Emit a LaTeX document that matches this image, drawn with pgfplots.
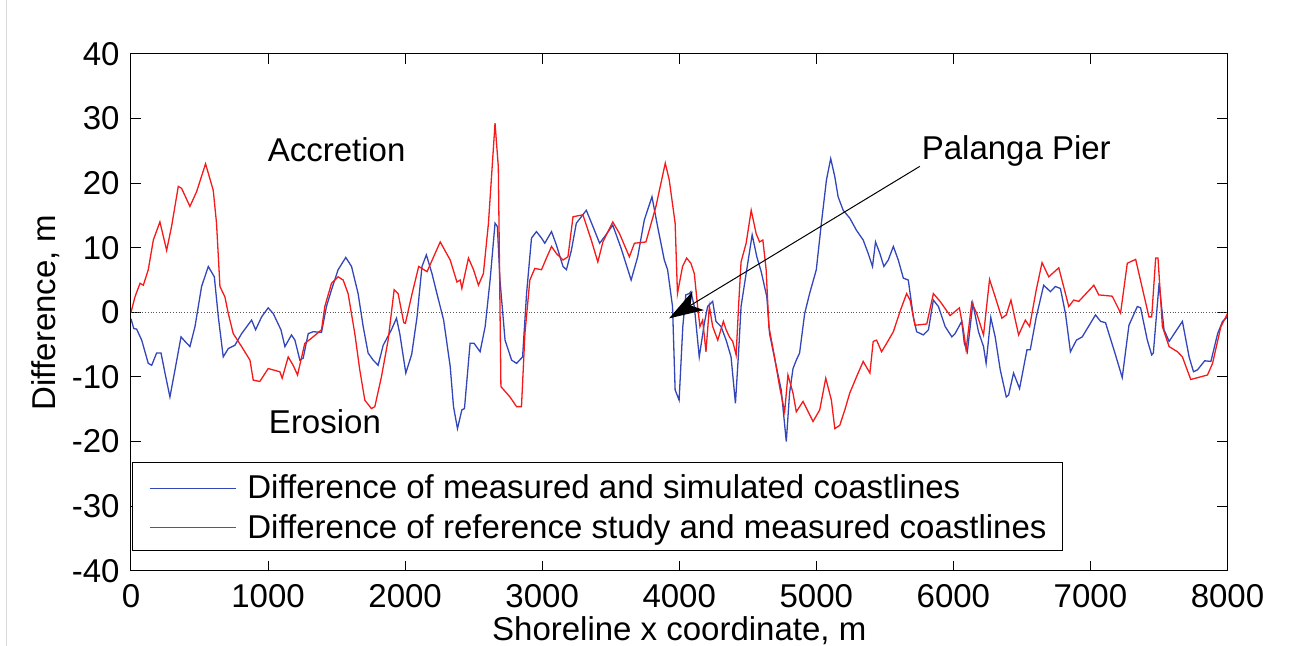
\documentclass[border=0pt]{standalone}
\usepackage{fontspec}
\setmainfont{Liberation Sans}
\usepackage{pgfplots}
\pgfplotsset{compat=1.18}
\usetikzlibrary{arrows.meta}
\definecolor{mblue}{RGB}{50,70,185}
\definecolor{mred}{RGB}{245,25,25}
\begin{document}
\fontsize{16.5}{20}\selectfont
\begin{tikzpicture}
\begin{axis}[
  at={(0,0)}, anchor=south west,
  scale only axis, width=548.25pt, height=258.35pt,
  xmin=0, xmax=8000, ymin=-40, ymax=40,
  xtick={0,1000,...,8000}, ytick={-40,-30,...,40},
  tick align=inside, major tick length=5pt, tick pos=both,
  axis line style={line width=0.5pt, black},
  tick style={line width=0.5pt, black},
  scaled ticks=false,
  /pgf/number format/1000 sep={},
  /pgf/number format/assume math mode=true,
  xticklabel style={inner sep=1pt, yshift=-5.5pt},
  xlabel={Shoreline x coordinate, m},
  ylabel={Difference, m},
  xlabel style={at={(axis description cs:0.5,-0.1355)}, anchor=base, inner sep=0pt},
  ylabel style={at={(axis description cs:-0.0693,0.5)}, anchor=base, inner sep=0pt},
]
\draw[gray!70!black, densely dotted, line width=0.4pt] (axis cs:0,0) -- (axis cs:8000,0);
\addplot[color=mblue, line width=0.65pt] coordinates {
(0,-1) (20,-2.5) (41,-2.6) (78,-4.3) (126,-7.9) (151,-8.2) (187,-6.3) (219,-6.3) (248,-9.4) (284,-13.1)
(321,-8.9) (365,-3.8) (394,-4.5) (430,-5.3) (467,-2.2) (515,4.0) (564,7.1) (608,5.5) (637,-0.7) (673,-6.9)
(710,-5.6) (758,-5.1) (807,-3.3) (880,-1.2) (909,-2.7) (953,-0.7) (1001,0.7) (1038,-0.2) (1094,-2.7) (1123,-5.3)
(1171,-3.5) (1196,-4.3) (1232,-7.4) (1256,-7.1) (1293,-3.3) (1329,-3.0) (1390,-3.1) (1426,0.9) (1463,3.5) (1511,6.6)
(1567,8.5) (1609,7.1) (1657,2.9) (1694,-2.2) (1730,-6.3) (1767,-7.4) (1803,-8.2) (1840,-5.1) (1900,-2.7) (1937,-0.9)
(1961,-3.3) (2005,-9.4) (2048,-6.5) (2087,-0.7) (2123,7.1) (2155,8.9) (2196,6.0) (2232,2.9) (2281,-1.2) (2329,-8.4)
(2353,-14.6) (2382,-18.0) (2414,-15.1) (2433,-14.9) (2474,-4.8) (2503,-4.8) (2547,-6.1) (2584,-2.2) (2620,5.0) (2656,13.8)
(2673,13.3) (2692,5.0) (2729,-4.3) (2777,-7.4) (2813,-7.9) (2857,-6.9) (2886,2.9) (2922,11.5) (2958,12.5) (2995,11.5)
(3019,10.7) (3068,12.5) (3104,10.4) (3152,7.1) (3177,6.6) (3213,9.6) (3249,13.8) (3322,15.8) (3370,13.3) (3419,10.7)
(3455,11.7) (3515,13.5) (3576,9.9) (3649,5.0) (3697,8.6) (3745,14.3) (3801,17.9) (3842,13.3) (3891,8.1) (3915,6.6)
(3951,0.9) (3970,-12.0) (3999,-13.6) (4026,-2.2) (4048,2.7) (4072,2.9) (4085,3.2) (4110,0.9) (4146,-6.9) (4183,-1.7)
(4207,0.9) (4244,1.7) (4268,-1.4) (4305,-2.2) (4342,-4.3) (4378,-6.9) (4410,-14.1) (4434,-5.8) (4451,0.9) (4488,6.0)
(4532,12.0) (4566,8.6) (4598,6.3) (4639,2.4) (4659,-3.3) (4708,-8.4) (4744,-12.0) (4781,-20.0) (4805,-12.5) (4830,-8.7)
(4854,-7.4) (4878,-6.3) (4915,-0.2) (4951,2.9) (5000,6.6) (5037,13.8) (5074,20.5) (5105,23.8) (5135,21.0) (5159,17.9)
(5196,15.8) (5244,14.6) (5293,12.7) (5342,11.2) (5379,9.1) (5410,7.1) (5432,10.9) (5464,9.1) (5493,7.1) (5525,8.1)
(5562,10.2) (5598,8.1) (5635,5.3) (5671,5.0) (5708,-0.7) (5732,-3.0) (5781,-3.5) (5818,-2.7) (5854,1.9) (5891,0.9)
(5940,-2.2) (5989,-3.8) (6012,-3.3) (6061,-1.4) (6080,-4.8) (6102,-6.1) (6142,1.4) (6183,-3.0) (6220,-5.3) (6239,-7.9)
(6273,-0.8) (6305,-3.8) (6342,-8.9) (6386,-13.1) (6403,-12.8) (6439,-9.4) (6483,-11.8) (6537,-5.8) (6561,-5.8) (6605,-0.7)
(6659,4.2) (6708,3.2) (6744,4.0) (6781,3.7) (6818,-0.2) (6854,-6.1) (6898,-4.3) (6940,-3.8) (7037,-0.4) (7074,-1.4)
(7110,-1.6) (7183,-6.6) (7232,-10.1) (7281,-2.0) (7342,0.9) (7366,0.7) (7415,-4.3) (7447,-6.6) (7459,-6.3) (7501,4.5)
(7537,-2.7) (7574,-4.5) (7671,-1.4) (7720,-6.9) (7752,-9.2) (7781,-8.9) (7834,-7.5) (7879,-7.6) (7928,-3.3) (7964,-1.4)
(8000,-0.7)
};
\addplot[color=mred, line width=0.65pt] coordinates {
(0,0) (29,2.4) (66,4.5) (90,4.2) (126,6.6) (163,11.2) (211,14.0) (260,9.6) (296,13.3) (345,19.5)
(369,19.2) (430,16.4) (479,18.7) (544,23.0) (600,18.9) (624,13.8) (649,4.0) (685,2.4) (710,-0.2) (746,-3.3)
(807,-5.3) (868,-7.4) (892,-10.5) (940,-10.7) (1001,-8.7) (1086,-9.2) (1103,-10.2) (1147,-6.9) (1183,-8.2) (1215,-9.7)
(1268,-4.8) (1317,-4.0) (1390,-2.7) (1414,0.9) (1463,4.5) (1511,5.5) (1548,5.0) (1584,2.9) (1633,-3.3) (1669,-8.9)
(1706,-13.6) (1754,-14.9) (1779,-14.6) (1827,-10.0) (1876,-4.3) (1920,3.5) (1949,2.9) (1990,-1.6) (2002,-1.7) (2051,2.9)
(2099,7.1) (2160,6.3) (2256,10.9) (2329,8.1) (2378,4.7) (2402,5.0) (2414,3.7) (2462,8.4) (2499,6.6) (2535,4.2)
(2571,6.0) (2608,13.8) (2656,29.3) (2680,22.5) (2699,-11.5) (2765,-13.1) (2813,-14.6) (2849,-14.6) (2874,-3.3) (2910,5.0)
(2946,6.8) (2995,6.6) (3031,8.4) (3068,10.2) (3104,9.1) (3152,8.1) (3188,8.6) (3225,14.8) (3297,15.1) (3358,11.2)
(3406,7.8) (3443,10.9) (3515,14.0) (3564,12.2) (3636,8.6) (3673,10.7) (3757,10.9) (3830,16.4) (3898,23.1) (3927,20.5)
(3970,13.8) (3987,2.9) (4024,7.1) (4054,8.4) (4085,7.6) (4110,6.0) (4134,0.9) (4151,-2.2) (4171,-1.2) (4195,-6.1)
(4220,0.9) (4244,-2.2) (4281,-4.3) (4322,-1.4) (4342,-2.7) (4366,-3.8) (4390,-4.5) (4415,-6.6) (4434,1.4) (4451,7.8)
(4488,10.7) (4525,15.8) (4561,12.2) (4586,10.9) (4610,11.2) (4634,6.6) (4654,-2.2) (4695,-6.9) (4732,-11.5) (4769,-15.4)
(4793,-9.7) (4830,-12.5) (4854,-15.4) (4903,-13.8) (4976,-16.9) (5025,-15.1) (5069,-10.2) (5110,-13.6) (5135,-18.0) (5171,-17.5)
(5208,-15.1) (5244,-12.5) (5293,-10.0) (5342,-7.6) (5391,-9.4) (5415,-4.5) (5440,-4.3) (5476,-6.1) (5513,-4.8) (5562,-3.0)
(5615,0.4) (5659,2.9) (5684,1.9) (5708,-0.7) (5720,-2.0) (5806,-1.8) (5854,2.9) (5903,1.7) (5976,-0.5) (6044,0.7)
(6073,-2.7) (6093,-5.8) (6134,1.5) (6171,-0.2) (6220,-3.5) (6264,5.1) (6305,2.4) (6354,-0.9) (6386,-0.4) (6420,1.9)
(6476,-3.5) (6525,-1.2) (6556,-2.2) (6605,3.5) (6647,7.7) (6696,5.5) (6769,6.9) (6842,0.9) (6878,1.9) (6915,1.7)
(7025,4.2) (7061,2.7) (7159,2.5) (7220,-0.1) (7269,7.6) (7330,8.2) (7427,-0.7) (7447,-0.7) (7476,8.4) (7493,8.4)
(7525,-2.2) (7574,-5.3) (7635,-6.1) (7671,-6.9) (7732,-10.4) (7854,-9.7) (7891,-7.9) (7952,-2.2) (8000,-0.2)
};
\node[anchor=base, inner sep=0pt] at (axis cs:1500,23.3) {Accretion};
\node[anchor=base, inner sep=0pt] at (axis cs:1415,-18.7) {Erosion};
\node[anchor=base west, inner sep=0pt] at (axis cs:5767,23.7) {Palanga Pier};
\draw[black, line width=0.5pt, -{Stealth[length=17pt, width=11pt, inset=4.5pt]}] (axis cs:5755,22.6) -- (axis cs:3926,-0.93);
\end{axis}
% legend box
\draw[black, line width=0.5pt, fill=white] (1pt,9.85pt) rectangle (465.5pt,53.85pt);
\draw[mblue, line width=0.65pt] (9.5pt,41.2pt) -- (52.5pt,41.2pt);
\draw[mred, line width=0.65pt] (9.5pt,21.7pt) -- (52.5pt,21.7pt);
\node[anchor=base west, inner sep=0pt] at (58pt,36.2pt) {Difference of measured and simulated coastlines};
\node[anchor=base west, inner sep=0pt] at (58pt,16.2pt) {Difference of reference study and measured coastlines};
\draw[gray!30, line width=0.5pt] (-62pt,-37.65pt) -- (-62pt,285.35pt);
\pgfresetboundingbox
\path[use as bounding box] (-65.5pt,-37.65pt) rectangle (579.5pt,285.35pt);
\end{tikzpicture}
\end{document}
